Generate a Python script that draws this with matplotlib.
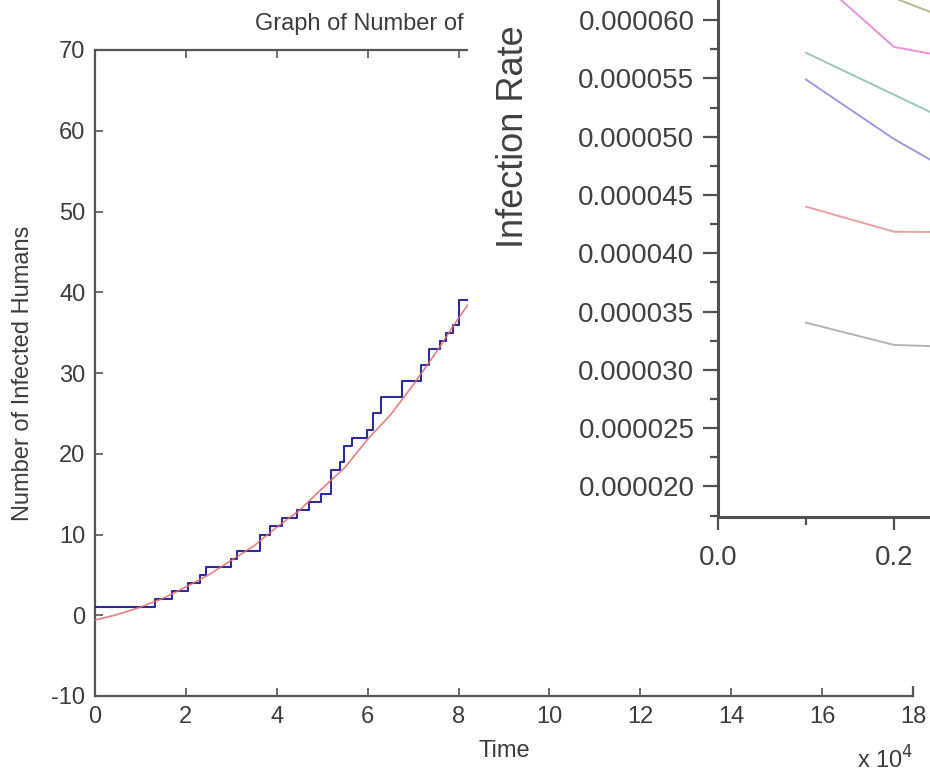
import matplotlib
matplotlib.use('Agg')
import matplotlib.pyplot as plt
from matplotlib.patches import Rectangle
from matplotlib.ticker import FixedLocator, FormatStrFormatter

plt.rcParams['font.family'] = ['Liberation Sans', 'DejaVu Sans']
plt.rcParams['axes.unicode_minus'] = False

# ---------------- main chart data (time in units of 10^4) ----------------
event_times = [0.0, 1.33, 1.70, 2.05, 2.30, 2.45, 3.00, 3.12, 3.62, 3.85, 4.12,
               4.45, 4.70, 4.97, 5.20, 5.40, 5.47, 5.65, 5.98, 6.12, 6.30, 6.75,
               7.18, 7.35, 7.60, 7.72, 7.87, 8.02, 8.25]
infected_counts = [1, 2, 3, 4, 5, 6, 7, 8, 10, 11, 12,
                   13, 14, 15, 18, 19, 21, 22, 23, 25, 27, 29,
                   31, 33, 34, 35, 36, 39, 39]

fit_times = [0.0, 0.5, 1.0, 1.5, 2.0, 2.5, 3.0, 3.5, 4.0, 4.5, 5.0, 5.5,
             6.0, 6.5, 7.0, 7.5, 8.0, 8.25]
fit_values = [-0.6, 0.1, 1.0, 2.1, 3.5, 5.0, 6.8, 8.6, 10.9, 13.0, 15.7, 18.3,
              21.8, 24.8, 28.5, 32.5, 36.8, 38.8]

main_xticks = [0, 2, 4, 6, 8, 10, 12, 14, 16, 18]
main_yticks = [-10, 0, 10, 20, 30, 40, 50, 60, 70]
main_title = 'Graph of Number of'

# ---------------- overlaid chart data ----------------
rate_x = [0.1, 0.2, 0.3]
rate_olive = [6.75e-5, 6.19e-5, 5.90e-5]
rate_magenta = [6.44e-5, 5.77e-5, 5.63e-5]
rate_teal = [5.72e-5, 5.36e-5, 5.00e-5]
rate_blue = [5.49e-5, 4.98e-5, 4.55e-5]
rate_red = [4.40e-5, 4.185e-5, 4.18e-5]
rate_gray = [3.405e-5, 3.214e-5, 3.19e-5]
rate_yticks = [2.0e-5, 2.5e-5, 3.0e-5, 3.5e-5, 4.0e-5, 4.5e-5, 5.0e-5, 5.5e-5, 6.0e-5]
rate_yminor = [1.75e-5, 2.25e-5, 2.75e-5, 3.25e-5, 3.75e-5, 4.25e-5, 4.75e-5,
               5.25e-5, 5.75e-5, 6.25e-5]
rate_xticks = [0.0, 0.2]
rate_xminor = [0.1, 0.3]

W, H = 930, 774
fig = plt.figure(figsize=(W / 100, H / 100), dpi=100)

# ---------------- main axes ----------------
txt = '#3c3c3c'
spc = '#555555'
ax = fig.add_axes([95 / W, 1 - 696 / H, (913 - 95) / W, (696 - 50) / H])
ax.step(event_times, infected_counts, where='post', color='#2b2b9c', lw=1.5, zorder=3)
ax.plot(fit_times, fit_values, color='#e06a6a', lw=1.2, alpha=0.85, zorder=4)
ax.set_xlim(0, 18)
ax.set_ylim(-10, 70)
ax.set_xticks(main_xticks)
ax.set_yticks(main_yticks)
ax.tick_params(direction='in', length=6, width=1.2, top=True, right=True,
               labelsize=17, colors=spc, labelcolor=txt, pad=7)
for s in ax.spines.values():
    s.set_color(spc)
    s.set_linewidth(1.6)
fig.text(255 / W, 1 - 24 / H, main_title, fontsize=17, color=txt, ha='left', va='center')
ax.set_xlabel('Time', fontsize=17, color=txt)
ax.set_ylabel('Number of Infected Humans', fontsize=17, color=txt)
ax.xaxis.set_label_coords(0.5, -0.068)
ax.yaxis.set_label_coords(-0.075, 0.5)
fig.text(913 / W, 1 - 746 / H, r'x 10$^4$', fontsize=17, color=txt, ha='right', va='top')

# ---------------- overlay panel ----------------
fig.add_artist(Rectangle((468 / W, 1 - 686 / H), 1 - 468 / W, 686 / H,
                         transform=fig.transFigure, facecolor='white',
                         edgecolor='none', zorder=5))

ax2 = fig.add_axes([718 / W, 1 - 516.8 / H, 264 / W, 555 / H])
ax2.set_zorder(10)
ax2.patch.set_alpha(0)
ax2.plot(rate_x, rate_olive, color='#b8b890', lw=1.4)
ax2.plot(rate_x, rate_magenta, color='#e890e0', lw=1.4)
ax2.plot(rate_x, rate_teal, color='#98c8b8', lw=1.4)
ax2.plot(rate_x, rate_blue, color='#9a9ae0', lw=1.4)
ax2.plot(rate_x, rate_red, color='#eaa0a0', lw=1.4)
ax2.plot(rate_x, rate_gray, color='#b4b4b4', lw=1.4)
ax2.set_xlim(0, 0.3)
ax2.set_ylim(1.74e-5, 6.5e-5)
ax2.xaxis.set_major_locator(FixedLocator(rate_xticks))
ax2.xaxis.set_minor_locator(FixedLocator(rate_xminor))
ax2.yaxis.set_major_locator(FixedLocator(rate_yticks))
ax2.yaxis.set_minor_locator(FixedLocator(rate_yminor))
ax2.xaxis.set_major_formatter(FormatStrFormatter('%.1f'))
ax2.yaxis.set_major_formatter(FormatStrFormatter('%.6f'))
ax2.tick_params(which='major', direction='out', length=11, width=1.6,
                colors='#505050', labelcolor='#404040', labelsize=20, pad=6)
ax2.tick_params(which='minor', direction='out', length=6, width=1.6, colors='#505050')
ax2.tick_params(axis='x', which='major', length=9, pad=11)
for s in ax2.spines.values():
    s.set_color('#505050')
    s.set_linewidth(2.2)
ax2.set_ylabel('Infection Rate', fontsize=26, color='#404040')
ax2.yaxis.set_label_coords(-0.708, 0.684)

fig.savefig('out.png', dpi=100)
